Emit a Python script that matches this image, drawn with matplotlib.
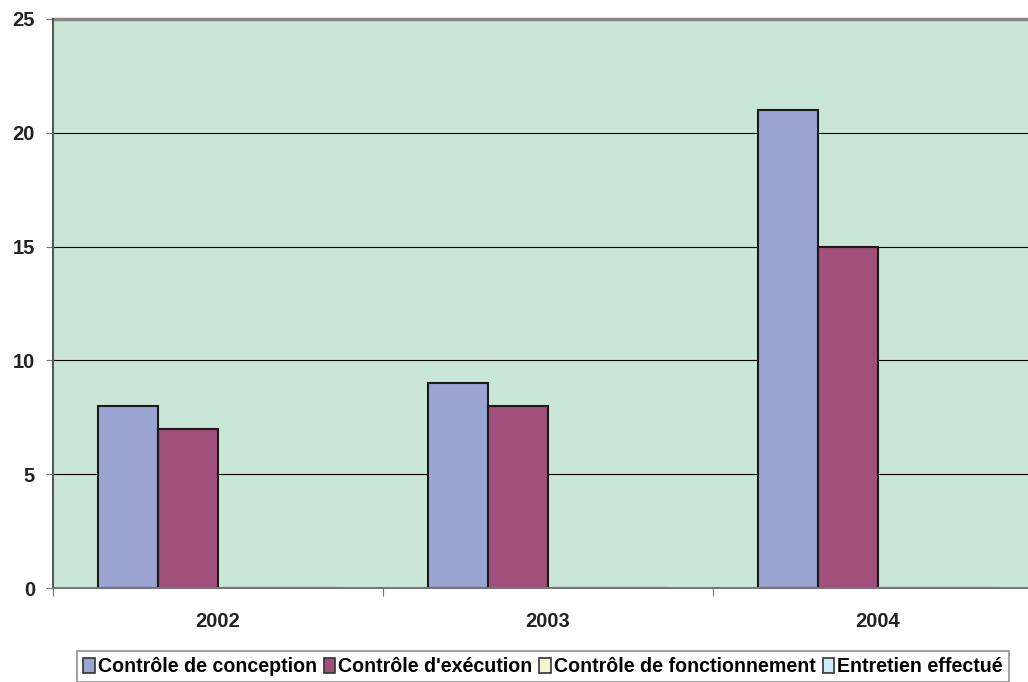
import numpy as np
import matplotlib.pyplot as plt
from matplotlib.patches import Patch

years = ["2002", "2003", "2004"]
series = ["Contrôle de conception", "Contrôle d'exécution",
          "Contrôle de fonctionnement", "Entretien effectué"]
conception = [8, 9, 21]
execution = [7, 8, 15]
fonctionnement = [0, 0, 0]
entretien = [0, 0, 0]
colors = ["#9aa5d4", "#a0507a", "#f7f5d0", "#cdeef8"]

plt.rcParams['font.family'] = ['Liberation Sans', 'DejaVu Sans']
plt.rcParams['font.weight'] = 'bold'

fig = plt.figure(figsize=(10.28, 6.82), dpi=100)
ax = fig.add_axes([53/1028, 1 - 588/682, 990/1028, 569/682])
ax.set_facecolor("#c9e6d6")

x = np.arange(len(years))
w = 60/330
values = [conception, execution, fonctionnement, entretien]
for i, vals in enumerate(values):
    ax.bar(x - 1.5*w + i*w, vals, w, color=colors[i], edgecolor="#1a1a1a", linewidth=1.5)

ax.set_xlim(-0.5, 2.5)
ax.set_ylim(0, 25)
ax.set_yticks([0, 5, 10, 15, 20, 25])
ax.yaxis.grid(True, color="black", linewidth=0.8)
ax.set_axisbelow(True)
ax.set_xticks([-0.5, 0.5, 1.5, 2.5])
ax.set_xticklabels([])
ax.set_xticks(x, minor=True)
ax.set_xticklabels(years, minor=True)
ax.tick_params(axis='x', which='minor', length=0, pad=17, labelsize=14.5)
ax.tick_params(axis='x', which='major', length=6, color="#777777")
ax.tick_params(axis='y', length=5, color="#777777", labelsize=14.5, pad=8)
for lab in ax.get_yticklabels() + ax.get_xticklabels(minor=True):
    lab.set_fontweight('bold')
    lab.set_color("#222222")
for s in ["top", "right"]:
    ax.spines[s].set_visible(False)
ax.spines["left"].set_color("#555560")
ax.spines["left"].set_linewidth(1.5)
ax.spines["bottom"].set_color("#777777")
ax.spines["bottom"].set_linewidth(1.5)
ax.axhline(25, color="#888888", linewidth=2.5, clip_on=False)

handles = [Patch(facecolor=c, edgecolor="#333333", linewidth=1.2) for c in colors]
leg = fig.legend(handles, series, loc="upper left", bbox_to_anchor=(77/1028, 1 - 651/682),
                 ncol=4, frameon=True, fancybox=False, handlelength=0.6, handleheight=0.8,
                 handletextpad=0.15, columnspacing=0.35, borderpad=0.3, borderaxespad=0,
                 prop={'weight': 'bold', 'size': 14.1})
leg.get_frame().set_edgecolor("#777777")
leg.get_frame().set_linewidth(1.2)

fig.savefig("out.png", dpi=100)
